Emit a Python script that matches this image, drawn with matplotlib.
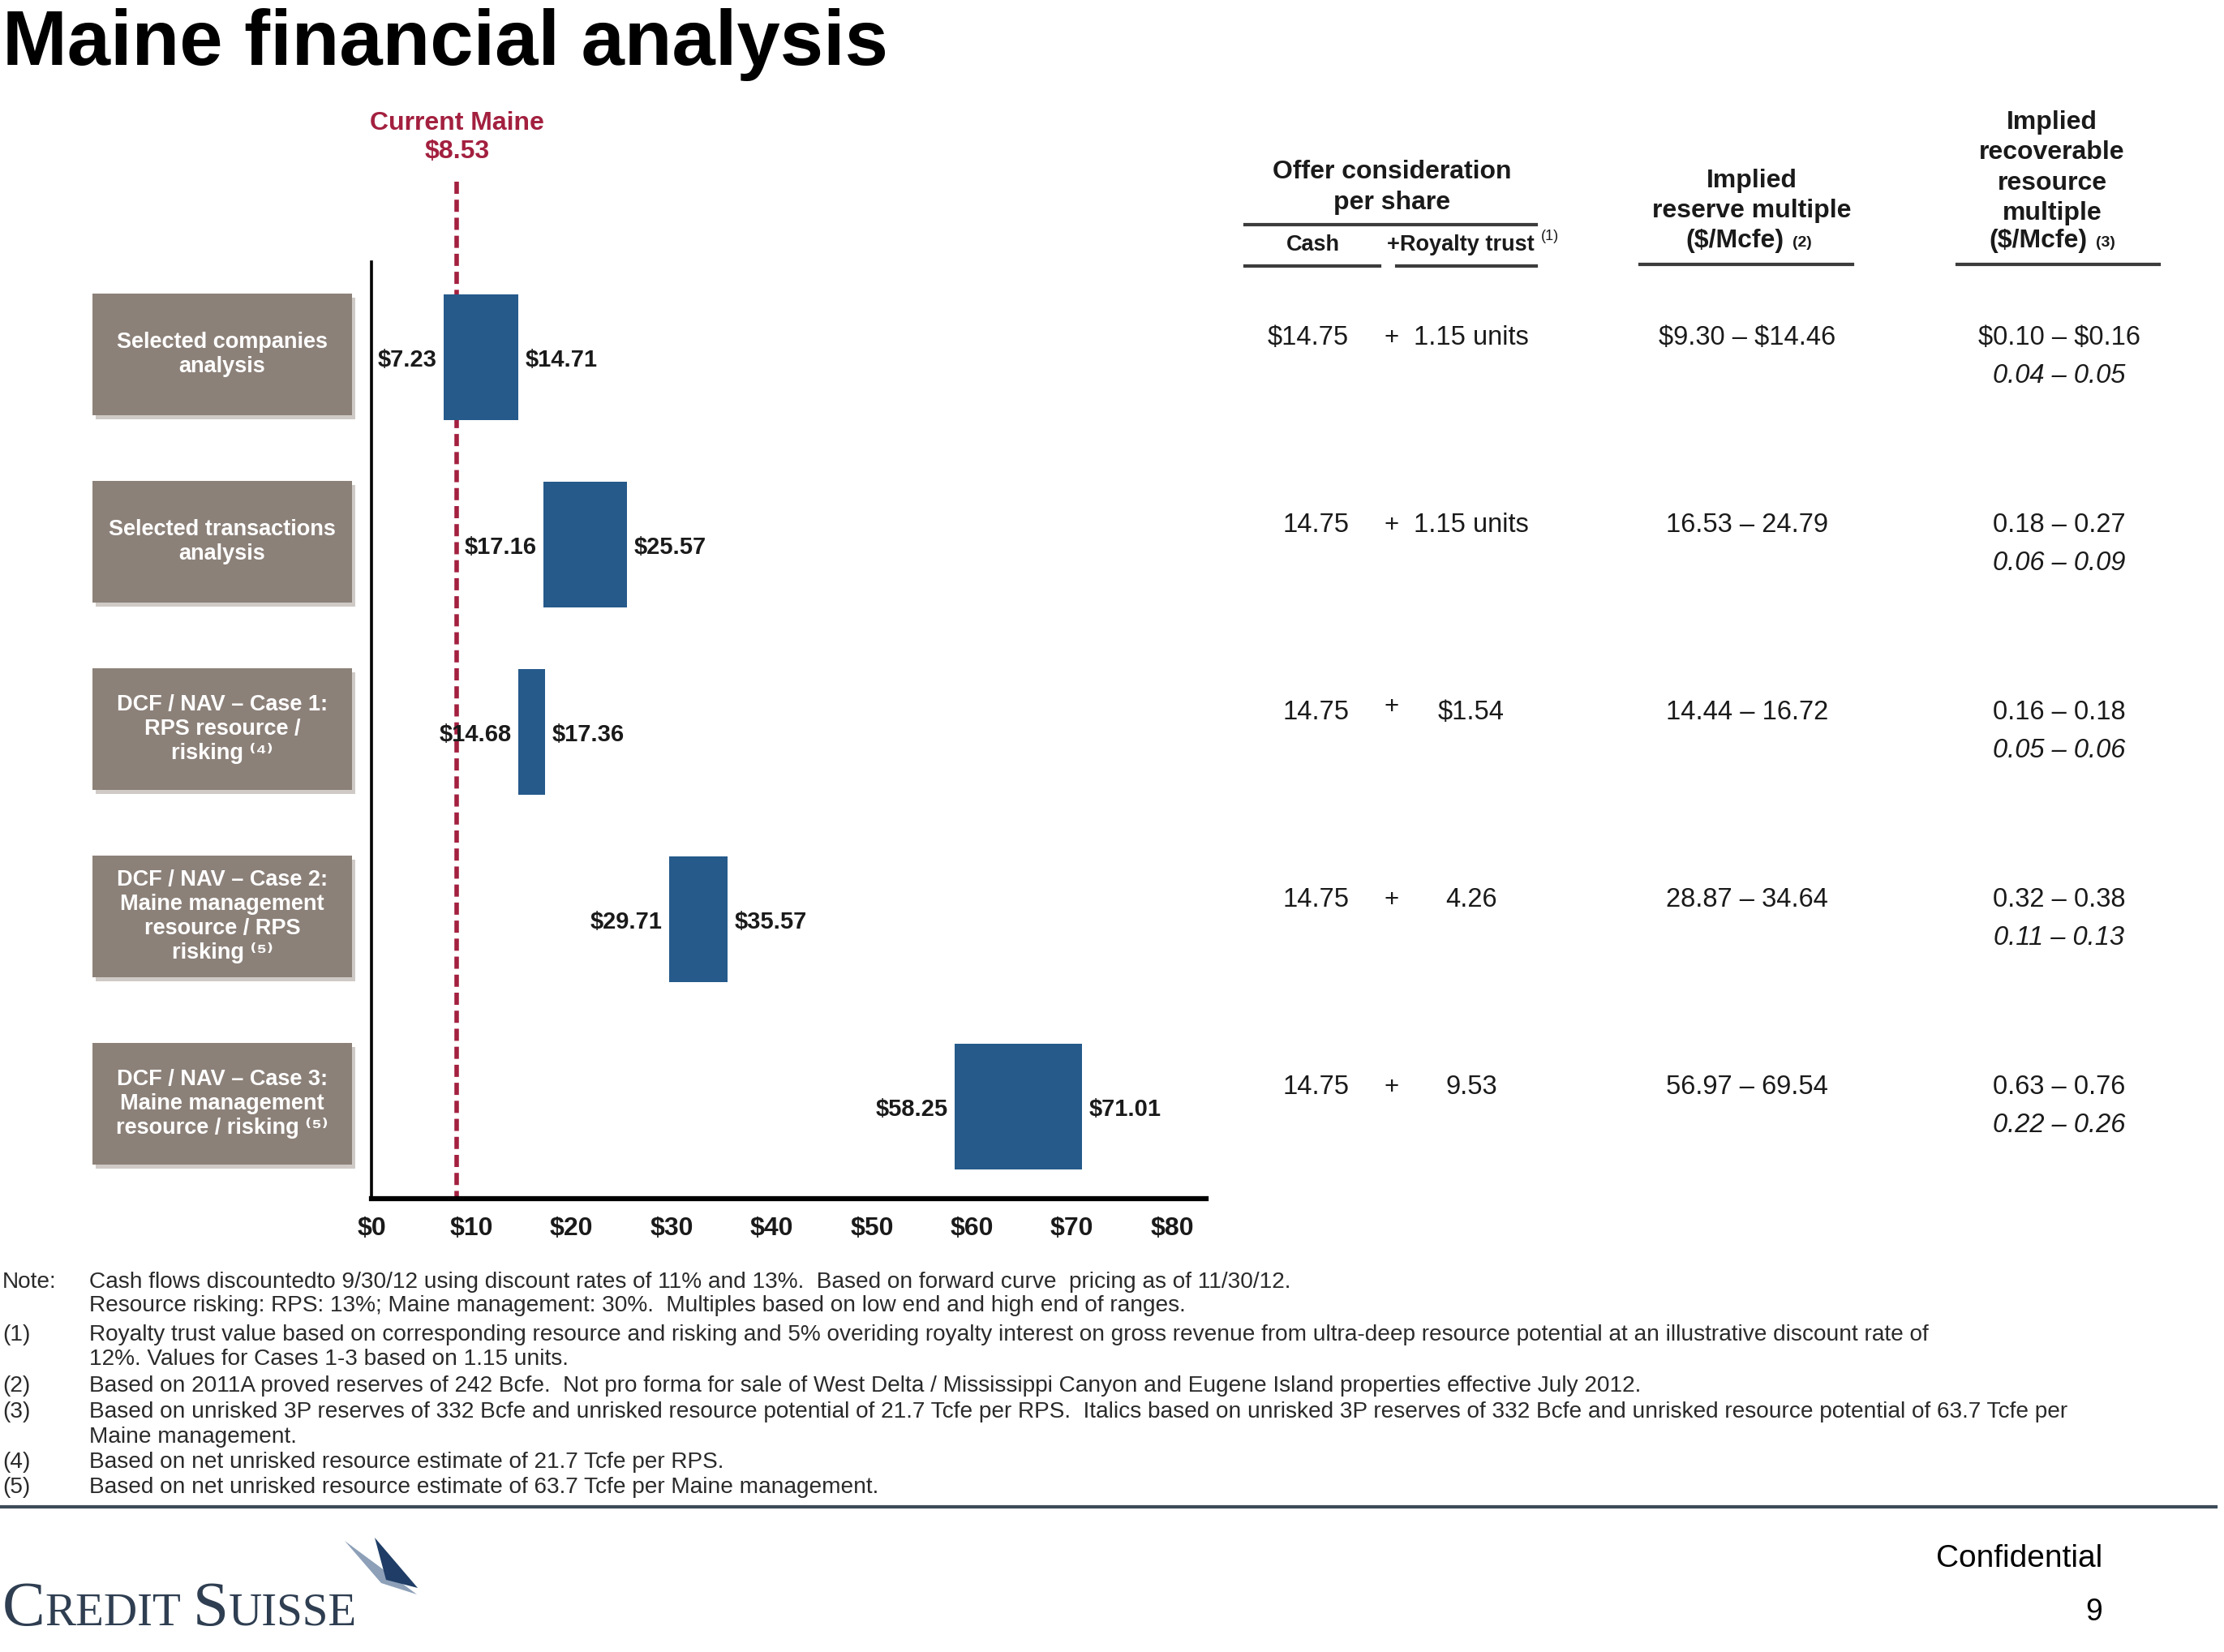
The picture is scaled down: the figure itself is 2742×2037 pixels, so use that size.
import matplotlib
matplotlib.use("Agg")
import matplotlib.pyplot as plt
from matplotlib.patches import Rectangle, Polygon
from matplotlib.transforms import blended_transform_factory
from matplotlib.lines import Line2D

# ---------------- data ----------------
categories = [
    "Selected companies\nanalysis",
    "Selected transactions\nanalysis",
    "DCF / NAV – Case 1:\nRPS resource /\nrisking ⁽⁴⁾",
    "DCF / NAV – Case 2:\nMaine management\nresource / RPS\nrisking ⁽⁵⁾",
    "DCF / NAV – Case 3:\nMaine management\nresource / risking ⁽⁵⁾",
]
low_values = [7.23, 17.16, 14.68, 29.71, 58.25]
high_values = [14.71, 25.57, 17.36, 35.57, 71.01]
current_price = 8.53
x_ticks = [0, 10, 20, 30, 40, 50, 60, 70, 80]
tick_labels = ["$0", "$10", "$20", "$30", "$40", "$50", "$60", "$70", "$80"]

cash_values = ["$14.75", "14.75", "14.75", "14.75", "14.75"]
royalty_values = ["1.15 units", "1.15 units", "$1.54", "4.26", "9.53"]
reserve_multiples = ["$9.30 – $14.46", "16.53 – 24.79", "14.44 – 16.72",
                     "28.87 – 34.64", "56.97 – 69.54"]
resource_multiples = ["$0.10 – $0.16", "0.18 – 0.27", "0.16 – 0.18",
                      "0.32 – 0.38", "0.63 – 0.76"]
resource_multiples_alt = ["0.04 – 0.05", "0.06 – 0.09", "0.05 – 0.06",
                          "0.11 – 0.13", "0.22 – 0.26"]

footnote_labels = ["Note:", "", "(1)", "", "(2)", "(3)", "", "(4)", "(5)"]
footnote_texts = [
    "Cash flows discountedto 9/30/12 using discount rates of 11% and 13%.  Based on forward curve  pricing as of 11/30/12.",
    "Resource risking: RPS: 13%; Maine management: 30%.  Multiples based on low end and high end of ranges.",
    "Royalty trust value based on corresponding resource and risking and 5% overiding royalty interest on gross revenue from ultra-deep resource potential at an illustrative discount rate of",
    "12%. Values for Cases 1-3 based on 1.15 units.",
    "Based on 2011A proved reserves of 242 Bcfe.  Not pro forma for sale of West Delta / Mississippi Canyon and Eugene Island properties effective July 2012.",
    "Based on unrisked 3P reserves of 332 Bcfe and unrisked resource potential of 21.7 Tcfe per RPS.  Italics based on unrisked 3P reserves of 332 Bcfe and unrisked resource potential of 63.7 Tcfe per",
    "Maine management.",
    "Based on net unrisked resource estimate of 21.7 Tcfe per RPS.",
    "Based on net unrisked resource estimate of 63.7 Tcfe per Maine management.",
]

# ---------------- styling ----------------
W, H = 2742, 2037
DPI = 100
FONT = ["Liberation Sans", "DejaVu Sans"]
plt.rcParams["font.family"] = FONT

BAR_COLOR = "#255A8B"
BOX_COLOR = "#8C8179"
RED = "#A3203F"
TXT = "#1A1A1A"


def fx(x):
    return x / W


def fy(y):
    return 1 - y / H


fig = plt.figure(figsize=(W / DPI, H / DPI), dpi=DPI)
fig.patch.set_facecolor("white")

# title
fig.text(fx(3), fy(80), "Maine financial analysis", fontsize=69,
         fontweight="bold", color="black", ha="left", va="baseline")

# ---------------- bar chart ----------------
ax = fig.add_axes([fx(458), fy(1478), (1487 - 458) / W, (1478 - 323) / H])
ax.set_xlim(0, 83.4)
ax.set_ylim(4.49, -0.51)
ypos = list(range(len(categories)))

widths = [h - l for l, h in zip(low_values, high_values)]
ax.barh(ypos, widths, left=low_values, height=0.67, color=BAR_COLOR,
        zorder=3)

ax.plot([current_price, current_price], [-0.94, 4.49], color=RED, lw=4,
        ls=(0, (2.7, 1.3)), clip_on=False, zorder=2)
ax.text(current_price, -1.25, "Current Maine", color=RED, fontsize=23,
        fontweight="bold", ha="center", va="center", parse_math=False)
ax.text(current_price, -1.10, "$8.53", color=RED, fontsize=23,
        fontweight="bold", ha="center", va="center", parse_math=False)

LBL_FS = 21
for i, (lo, hi) in enumerate(zip(low_values, high_values)):
    ax.annotate(f"${lo:.2f}", xy=(lo, i), xytext=(-6, -2),
                textcoords="offset points", ha="right", va="center",
                fontsize=LBL_FS, fontweight="bold", color=TXT,
                parse_math=False, zorder=4)
    ax.annotate(f"${hi:.2f}", xy=(hi, i), xytext=(6, -2),
                textcoords="offset points", ha="left", va="center",
                fontsize=LBL_FS, fontweight="bold", color=TXT,
                parse_math=False, zorder=4)

ax.set_xticks(x_ticks)
ax.set_xticklabels(tick_labels, fontsize=23, fontweight="bold", color=TXT)
ax.tick_params(axis="x", length=0, pad=16)
ax.set_yticks([])
for s in ["top", "right"]:
    ax.spines[s].set_visible(False)
ax.spines["left"].set_linewidth(2.6)
ax.spines["bottom"].set_linewidth(4.5)
ax.spines["left"].set_color("black")
ax.spines["bottom"].set_color("black")
ax.patch.set_alpha(0)

# category boxes (x in figure coords, y tied to rows)
tb = blended_transform_factory(fig.transFigure, ax.transData)
for i, cat in enumerate(categories):
    ax.add_patch(Rectangle((fx(118), i - 0.32), (438 - 118) / W, 0.65,
                           transform=tb, facecolor="#CFCAC6",
                           edgecolor="none", clip_on=False, zorder=1))
    ax.add_patch(Rectangle((fx(114), i - 0.34), (434 - 114) / W, 0.65,
                           transform=tb, facecolor=BOX_COLOR,
                           edgecolor="none", clip_on=False, zorder=2))
    ax.text(fx(274), i - 0.015, cat, transform=tb, ha="center", va="center",
            color="white", fontsize=19.5, fontweight="bold",
            linespacing=1.2, clip_on=False, zorder=3)

# ---------------- table ----------------
VAL_FS = 23.5
for i in ypos:
    y = i - 0.105
    ax.text(fx(1663), y, cash_values[i], transform=tb, ha="right",
            va="center", fontsize=VAL_FS, color=TXT, parse_math=False)
    plus_y = y - 0.03 if i == 2 else y
    ax.text(fx(1716), plus_y, "+", transform=tb, ha="center", va="center",
            fontsize=VAL_FS - 1, color=TXT)
    ax.text(fx(1814), y, royalty_values[i], transform=tb, ha="center",
            va="center", fontsize=VAL_FS, color=TXT, parse_math=False)
    ax.text(fx(2154), y, reserve_multiples[i], transform=tb, ha="center",
            va="center", fontsize=VAL_FS, color=TXT, parse_math=False)
    ax.text(fx(2539), y, resource_multiples[i], transform=tb, ha="center",
            va="center", fontsize=VAL_FS, color=TXT, parse_math=False)
    ax.text(fx(2539), i + 0.10, resource_multiples_alt[i], transform=tb,
            ha="center", va="center", fontsize=VAL_FS, color=TXT,
            style="italic", parse_math=False)

HDR_FS = 23
hdr = dict(fontsize=HDR_FS, fontweight="bold", color=TXT, ha="center",
           va="center", parse_math=False)
fig.text(fx(1716), fy(212), "Offer consideration", **hdr)
fig.text(fx(1716), fy(250), "per share", **hdr)
fig.text(fx(1619), fy(302), "Cash", **{**hdr, "fontsize": 19.5})
fig.text(fx(1801), fy(302), "+Royalty trust", **{**hdr, "fontsize": 19.5})
fig.text(fx(1900), fy(292), "(1)", fontsize=13, color=TXT, ha="left",
         va="center")

fig.text(fx(2160), fy(223), "Implied", **hdr)
fig.text(fx(2160), fy(260), "reserve multiple", **hdr)
fig.text(fx(2200), fy(297), "($/Mcfe)", **{**hdr, "ha": "right"})
fig.text(fx(2210), fy(299), "(2)", fontsize=14, fontweight="bold",
         color=TXT, ha="left", va="center")

for txt, yy in [("Implied", 151), ("recoverable", 188), ("resource", 226),
                ("multiple", 263)]:
    fig.text(fx(2530), fy(yy), txt, **hdr)
fig.text(fx(2574), fy(297), "($/Mcfe)", **{**hdr, "ha": "right"})
fig.text(fx(2584), fy(299), "(3)", fontsize=14, fontweight="bold",
         color=TXT, ha="left", va="center")

rule_col = "#3C3C3C"
for x0, x1, yy in [(1535, 1894, 277), (1535, 1701, 328), (1722, 1894, 328),
                   (2022, 2284, 326), (2413, 2662, 326)]:
    fig.add_artist(Line2D([fx(x0), fx(x1)], [fy(yy), fy(yy)], color=rule_col,
                          lw=3))

# ---------------- footnotes ----------------
FN_FS = 20.2
fn_y = [1581, 1610, 1646, 1676, 1709, 1741, 1772, 1803, 1834]
for lab, txt, yy in zip(footnote_labels, footnote_texts, fn_y):
    if lab:
        fig.text(fx(3), fy(yy), lab, fontsize=FN_FS, color="#2A2A2A",
                 ha="left", va="center")
    fig.text(fx(110), fy(yy), txt, fontsize=FN_FS, color="#2A2A2A",
             ha="left", va="center", parse_math=False)

fig.add_artist(Line2D([0, fx(2732)], [fy(1858), fy(1858)], color="#3D4B57",
                      lw=3))

fig.text(fx(2592), fy(1922), "Confidential", fontsize=28, color="black",
         ha="right", va="center")
fig.text(fx(2592), fy(1988), "9", fontsize=27, color="black", ha="right",
         va="center")

# ---------------- logo ----------------
renderer = fig.canvas.get_renderer()
x_cur = fx(3)
LOGO_COL = "#2F3E51"
for piece, fs in [("C", 57), ("REDIT", 41), (" ", 41), ("S", 57),
                  ("UISSE", 41)]:
    if piece == " ":
        x_cur += 14 / W
        continue
    t = fig.text(x_cur, fy(2004), piece, fontsize=fs, color=LOGO_COL,
                 family="Liberation Serif", ha="left", va="baseline")
    bb = t.get_window_extent(renderer=renderer)
    x_cur += bb.width / W

fig.add_artist(Polygon([(fx(425), fy(1900)), (fx(514), fy(1966)),
                        (fx(470), fy(1952))], closed=True,
                       facecolor="#8DA0B8", edgecolor="none",
                       transform=fig.transFigure))
fig.add_artist(Polygon([(fx(462), fy(1896)), (fx(515), fy(1958)),
                        (fx(476), fy(1948))], closed=True,
                       facecolor="#1F3D66", edgecolor="none",
                       transform=fig.transFigure))

fig.savefig("out.png", dpi=DPI, facecolor="white")
